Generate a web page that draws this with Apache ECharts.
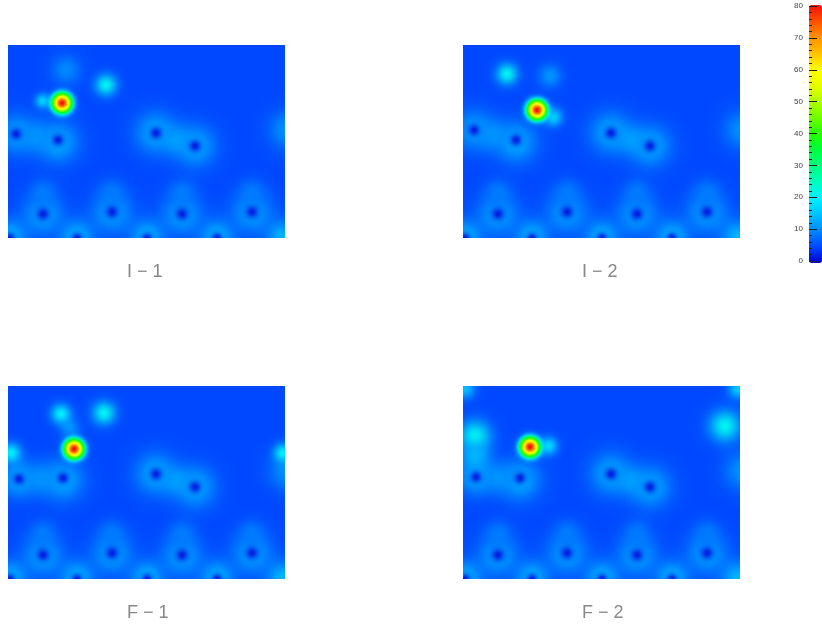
<!DOCTYPE html>
<html><head><meta charset="utf-8">
<style>html,body{margin:0;padding:0;background:#fff}#c{width:822px;height:625px}</style>
<script src="https://cdn.jsdelivr.net/npm/echarts@6/dist/echarts.min.js"></script>
</head><body><div id="c"></div>
<script>
// Panel labels and colour scale
const panelNames = ['I \u2212 1', 'I \u2212 2', 'F \u2212 1', 'F \u2212 2'];
const scaleColors = ['#0000d0','#0048ff','#0088ff','#00c0ff','#00f0ff','#00ffc0','#00ff80','#00ff40','#20ff00','#70ff00','#b0ff00','#e8ff00','#ffff00','#ffc000','#ff9000','#ff5000','#f01010'];
const backgroundLevel = 5;

// Each feature: [x, y, level, spread], x and y in panel units
const sharedGlows = [
  [35,170,12,50],[104,168,12,50],[174,170,12,50],[244,168,12,50],
  [35,148,9,32],[104,148,9,32],[174,148,9,32],[244,148,9,32],
  [2,192,14,40],[69,192,14,40],[139,192,14,40],[209,192,14,40],[275,192,14,40],
  [148,88,13,50],[187,101,13,50],[168,95,12,30]
];
const sharedHoles = [
  [35,169,2,15],[104,167,2,15],[174,169,2,15],[244,167,2,15],
  [2,193,2,13],[69,193,2,13],[139,193,2,13],[209,193,2,13],
  [148,88,2,15],[187,101,2,15]
];
const i1Features = [
  [8,89,12,48],[50,97,13,50],[28,92,11,34],[280,85,11,46],[58,25,10,36],
  [35,56,18,18],[98,40,21,26],[54,58,80,26],
  [8,89,2,14],[50,95,2,14]
];
const i2Features = [
  [11,85,12,48],[53,97,13,50],[30,90,11,34],[280,85,11,46],[87,31,11,28],
  [90,72,18,22],[44,29,21,26],[74,65,80,26],
  [11,85,2,14],[53,95,2,14]
];
const f1Features = [
  [11,93,13,44],[55,94,13,50],[33,93,11,34],[280,85,11,46],[62,43,11,24],
  [3,67,20,24],[275,67,20,22],[53,28,20,24],[96,27,21,28],[66,63,80,26],
  [11,93,2,14],[55,92,2,14]
];
const f2Features = [
  [13,91,13,44],[57,94,13,50],[35,92,11,34],[280,85,11,46],
  [2,3,15,24],[275,3,16,24],[12,50,21,38],[12,70,14,34],[262,40,21,38],[85,60,19,22],[67,61,80,26],
  [13,91,2,14],[57,92,2,14]
];
const panelFeatures = [i1Features, i2Features, f1Features, f2Features];

const hexRgb = h => [1,3,5].map(i => parseInt(h.substr(i,2),16));
function levelRgb(v){
  const p = Math.max(0, Math.min(scaleColors.length-1.001, v/5));
  const i = Math.floor(p), f = p-i;
  const a = hexRgb(scaleColors[i]), b = hexRgb(scaleColors[i+1]);
  return a.map((c,k)=>Math.round(c+(b[k]-c)*f));
}
function falloff(level){
  const stops = [], N = 28, e0 = Math.exp(-6.25);
  for(let k=0;k<=N;k++){
    const t=k/N, g=(Math.exp(-Math.pow(2.5*t,2))-e0)/(1-e0);
    const hot=level>=30;
    const c=levelRgb(hot?backgroundLevel+(level-backgroundLevel)*g:level);
    const alpha=hot?Math.min(1,g*3):g;
    stops.push({offset:t,color:`rgba(${c[0]},${c[1]},${c[2]},${alpha.toFixed(3)})`});
  }
  return stops;
}
function drawFeature(params, api){
  const c = api.coord([api.value(0), api.value(1)]);
  const r = api.size([api.value(3), 0])[0];
  return {type:'circle', shape:{cx:c[0],cy:c[1],r:r},
    style:{fill:{type:'radial',x:.5,y:.5,r:.5,colorStops:falloff(api.value(2))}}};
}

const lefts=[8,463,8,463], tops=[45,45,386,386];
const grid=[], xAxis=[], yAxis=[], series=[], title=[];
panelFeatures.forEach((features,i)=>{
  grid.push({left:lefts[i],top:tops[i],width:277,height:193,show:true,borderWidth:0,
    backgroundColor:`rgb(${levelRgb(backgroundLevel).join(',')})`});
  xAxis.push({gridIndex:i,type:'value',min:0,max:277,show:false});
  yAxis.push({gridIndex:i,type:'value',min:0,max:193,inverse:true,show:false});
  const positives=features.filter(f=>f[2]>=backgroundLevel), holes=features.filter(f=>f[2]<backgroundLevel);
  series.push({type:'custom',xAxisIndex:i,yAxisIndex:i,clip:true,silent:true,
    encode:{x:0,y:1},renderItem:drawFeature,
    data:sharedGlows.concat(positives,sharedHoles,holes)});
  title.push({text:panelNames[i],left:lefts[i]+114,top:tops[i]+213,
    textStyle:{fontFamily:'Liberation Sans',fontSize:18,fontWeight:'normal',color:'#888'}});
});
// colour bar axis
grid.push({left:809,top:6,width:13,height:255});
xAxis.push({gridIndex:4,type:'value',show:false,min:0,max:1});
yAxis.push({gridIndex:4,type:'value',min:0,max:80,interval:10,position:'left',z:10,
  axisLine:{show:false},splitLine:{show:false},
  axisLabel:{show:true,fontSize:8,color:'#444',margin:6,fontFamily:'Liberation Sans'},
  axisTick:{show:true,inside:true,length:8,lineStyle:{color:'#222',width:1}},
  minorTick:{show:true,splitNumber:5,length:3,lineStyle:{color:'#222',width:1}}});
series.push({type:'custom',xAxisIndex:4,yAxisIndex:4,renderItem:()=>null,data:[]});

echarts.init(document.getElementById('c')).setOption({
  animation:false,backgroundColor:'#fff',title,grid,xAxis,yAxis,series,
  visualMap:{type:'continuous',min:0,max:80,seriesIndex:4,left:809,top:5,itemWidth:13,itemHeight:258,padding:0,
    calculable:false,text:null,showLabel:false,inRange:{color:scaleColors}}
});
</script></body></html>
